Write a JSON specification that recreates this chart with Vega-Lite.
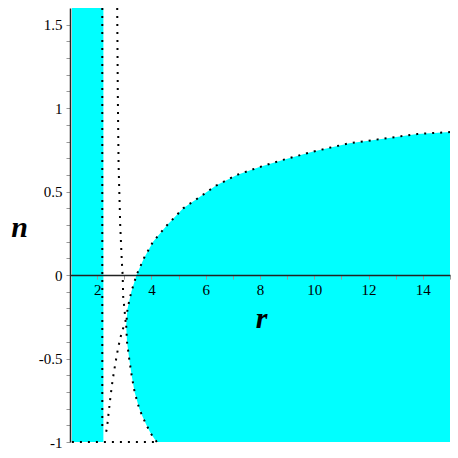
{
  "$schema": "https://vega.github.io/schema/vega-lite/v6.json",
  "width": 380,
  "height": 434,
  "autosize": {"type": "none"},
  "padding": {"left": 70, "top": 8, "right": 8, "bottom": 16},
  "background": "white",
  "config": {"view": {"stroke": null}, "font": "Liberation Serif"},
  "datasets": {
    "leftband": [{"r": 1.07, "r_end": 2.23, "n": -1, "n_end": 1.6}],
    "boundary": [
      {"n": -1.0, "r": 4.2},
      {"n": -0.985, "r": 4.13},
      {"n": -0.95, "r": 3.98},
      {"n": -0.9, "r": 3.82},
      {"n": -0.85, "r": 3.68},
      {"n": -0.8, "r": 3.55},
      {"n": -0.7, "r": 3.38},
      {"n": -0.6, "r": 3.27},
      {"n": -0.5, "r": 3.18},
      {"n": -0.4, "r": 3.1},
      {"n": -0.3, "r": 3.07},
      {"n": -0.2, "r": 3.12},
      {"n": -0.1, "r": 3.26},
      {"n": 0.0, "r": 3.45},
      {"n": 0.1, "r": 3.72},
      {"n": 0.2, "r": 4.06},
      {"n": 0.3, "r": 4.58},
      {"n": 0.4, "r": 5.17},
      {"n": 0.47, "r": 5.8},
      {"n": 0.536, "r": 6.38},
      {"n": 0.6, "r": 7.15},
      {"n": 0.647, "r": 7.98},
      {"n": 0.69, "r": 8.84},
      {"n": 0.74, "r": 9.96},
      {"n": 0.79, "r": 11.3},
      {"n": 0.817, "r": 12.55},
      {"n": 0.845, "r": 13.8},
      {"n": 0.857, "r": 15.0}
    ],
    "lines": [
      {"curve": "a", "r": 2.19, "n": 1.6},
      {"curve": "a", "r": 2.19, "n": -0.94},
      {"curve": "b", "r": 1.07, "n": -1},
      {"curve": "b", "r": 4.2, "n": -1},
      {"curve": "c", "r": 2.74, "n": 1.6},
      {"curve": "c", "r": 2.76, "n": 1.1},
      {"curve": "c", "r": 2.79, "n": 0.66},
      {"curve": "c", "r": 2.85, "n": 0.3},
      {"curve": "c", "r": 2.91, "n": 0.08},
      {"curve": "c", "r": 2.94, "n": 0.0},
      {"curve": "c", "r": 2.96, "n": -0.13},
      {"curve": "c", "r": 3.01, "n": -0.21},
      {"curve": "c", "r": 3.05, "n": -0.28},
      {"curve": "c", "r": 2.91, "n": -0.34},
      {"curve": "c", "r": 2.78, "n": -0.43},
      {"curve": "c", "r": 2.67, "n": -0.53},
      {"curve": "c", "r": 2.57, "n": -0.63},
      {"curve": "c", "r": 2.49, "n": -0.73},
      {"curve": "c", "r": 2.42, "n": -0.83},
      {"curve": "c", "r": 2.36, "n": -0.92},
      {"curve": "c", "r": 2.3, "n": -0.96}
    ]
  },
  "encoding": {
    "x": {
      "field": "r",
      "type": "quantitative",
      "scale": {"domain": [1, 15], "nice": false, "zero": false},
      "axis": {
        "title": "r",
        "offset": -166.9,
        "zindex": 1,
        "grid": false,
        "values": [2, 3, 4, 5, 6, 7, 8, 9, 10, 11, 12, 13, 14, 15],
        "labelExpr": "datum.value % 2 == 0 ? datum.value + '' : ''",
        "labelOverlap": false,
        "labelFlush": false,
        "labelFont": "Liberation Serif",
        "labelFontSize": 15,
        "labelColor": "black",
        "labelPadding": 3,
        "tickSize": 4,
        "tickColor": "#999999",
        "tickWidth": 1,
        "domainColor": "#222222",
        "domainWidth": 1.5,
        "titleFont": "Liberation Serif",
        "titleFontSize": 30,
        "titleFontWeight": "bold",
        "titleFontStyle": "italic",
        "titleColor": "black",
        "titleX": 191,
        "titleY": 43,
        "titleAlign": "center",
        "titleBaseline": "middle"
      }
    },
    "y": {
      "field": "n",
      "type": "quantitative",
      "scale": {"domain": [-1, 1.6], "nice": false, "zero": false},
      "axis": {
        "title": "n",
        "zindex": 1,
        "grid": false,
        "values": [-1, -0.9, -0.8, -0.7, -0.6, -0.5, -0.4, -0.3, -0.2, -0.1, 0, 0.1, 0.2, 0.3, 0.4, 0.5, 0.6, 0.7, 0.8, 0.9, 1, 1.1, 1.2, 1.3, 1.4, 1.5],
        "labelExpr": "abs(datum.value * 2 - round(datum.value * 2)) < 0.000001 ? datum.value + '' : ''",
        "labelOverlap": false,
        "labelFlush": false,
        "labelFont": "Liberation Serif",
        "labelFontSize": 15,
        "labelColor": "black",
        "labelPadding": 4,
        "tickSize": 4,
        "tickColor": "#999999",
        "tickWidth": 1,
        "domainColor": "#222222",
        "domainWidth": 1.5,
        "titleFont": "Liberation Serif",
        "titleFontSize": 30,
        "titleFontWeight": "bold",
        "titleFontStyle": "italic",
        "titleColor": "black",
        "titleAngle": 0,
        "titleX": -51,
        "titleY": 219,
        "titleAlign": "center",
        "titleBaseline": "middle"
      }
    }
  },
  "layer": [
    {
      "data": {"name": "leftband"},
      "mark": {"type": "rect", "color": "#00FFFF"},
      "encoding": {
        "x2": {"field": "r_end"},
        "y2": {"field": "n_end"}
      }
    },
    {
      "data": {"name": "boundary"},
      "mark": {"type": "area", "orient": "horizontal", "color": "#00FFFF", "opacity": 1},
      "encoding": {
        "x2": {"datum": 15}
      }
    },
    {
      "data": {"name": "boundary"},
      "mark": {"type": "line", "color": "black", "strokeWidth": 2, "strokeDash": [2, 6]},
      "encoding": {"order": {"value": null}}
    },
    {
      "data": {"name": "lines"},
      "mark": {"type": "line", "color": "black", "strokeWidth": 2, "strokeDash": [2, 6]},
      "encoding": {
        "detail": {"field": "curve"},
        "order": {"value": null}
      }
    }
  ]
}
